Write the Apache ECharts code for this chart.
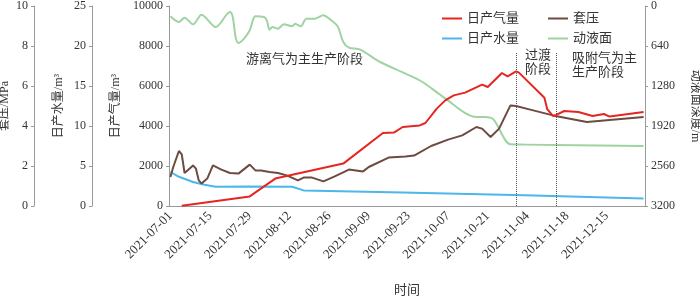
<!DOCTYPE html>
<html>
<head>
<meta charset="utf-8">
<script src="https://cdn.jsdelivr.net/npm/echarts@6/dist/echarts.min.js"></script>
<style>
  html, body { margin: 0; padding: 0; background: #fff; }
  #chart { width: 700px; height: 297px; }
</style>
</head>
<body>
<div id="chart"></div>
<script>
// dates on the x axis (the record skips early December)
function dateRange(from, to) {
  const out = [];
  const d = new Date(from + "T00:00:00Z");
  const end = new Date(to + "T00:00:00Z");
  while (d <= end) {
    out.push(d.toISOString().slice(0, 10));
    d.setUTCDate(d.getUTCDate() + 1);
  }
  return out;
}
const categories = dateRange("2021-07-01", "2021-12-01").concat(dateRange("2021-12-15", "2021-12-28"));

// 日产气量 m3/d
const gasData = [
  ["2021-07-05", 10], ["2021-07-29", 480], ["2021-08-07", 1370], ["2021-08-31", 2120],
  ["2021-09-14", 3650], ["2021-09-18", 3680], ["2021-09-21", 3950], ["2021-09-27", 4030],
  ["2021-09-29", 4150], ["2021-10-03", 4870], ["2021-10-06", 5280], ["2021-10-09", 5530],
  ["2021-10-13", 5670], ["2021-10-19", 6070], ["2021-10-21", 5950], ["2021-10-26", 6650],
  ["2021-10-28", 6480], ["2021-10-31", 6730], ["2021-11-01", 6670], ["2021-11-10", 5410],
  ["2021-11-11", 4840], ["2021-11-13", 4510], ["2021-11-14", 4540], ["2021-11-17", 4750],
  ["2021-11-22", 4700], ["2021-11-27", 4500], ["2021-12-01", 4600], ["2021-12-16", 4470],
  ["2021-12-28", 4700]
];

// 日产水量 m3/d
const waterData = [
  ["2021-07-01", 4.25], ["2021-07-04", 3.65], ["2021-07-09", 3.0], ["2021-07-13", 2.65],
  ["2021-07-17", 2.4], ["2021-07-29", 2.45], ["2021-08-13", 2.4], ["2021-08-17", 1.95],
  ["2021-09-21", 1.7], ["2021-11-03", 1.35], ["2021-12-28", 0.95]
];

// 套压 MPa
const pressureData = [
  ["2021-07-01", 1.45], ["2021-07-02", 1.95], ["2021-07-04", 2.75], ["2021-07-05", 2.58],
  ["2021-07-06", 1.65], ["2021-07-09", 2.03], ["2021-07-10", 1.87], ["2021-07-11", 1.28],
  ["2021-07-12", 1.12], ["2021-07-14", 1.37], ["2021-07-16", 2.03], ["2021-07-19", 1.82],
  ["2021-07-22", 1.65], ["2021-07-25", 1.62], ["2021-07-29", 2.07], ["2021-07-31", 1.78],
  ["2021-08-02", 1.77], ["2021-08-05", 1.7], ["2021-08-08", 1.65], ["2021-08-11", 1.53],
  ["2021-08-15", 1.28], ["2021-08-17", 1.42], ["2021-08-20", 1.42], ["2021-08-24", 1.23],
  ["2021-08-28", 1.48], ["2021-09-02", 1.82], ["2021-09-07", 1.73], ["2021-09-09", 1.95],
  ["2021-09-16", 2.42], ["2021-09-22", 2.48], ["2021-09-25", 2.52], ["2021-10-01", 3.0],
  ["2021-10-07", 3.32], ["2021-10-12", 3.53], ["2021-10-17", 3.95], ["2021-10-19", 3.87],
  ["2021-10-22", 3.45], ["2021-10-25", 3.87], ["2021-10-29", 5.03], ["2021-10-31", 5.0],
  ["2021-11-05", 4.82], ["2021-11-13", 4.53], ["2021-11-25", 4.2], ["2021-12-28", 4.45]
];

// 动液面深度 m
const levelData = [
  ["2021-07-01", 165], ["2021-07-04", 256], ["2021-07-06", 186], ["2021-07-09", 293],
  ["2021-07-12", 138], ["2021-07-17", 336], ["2021-07-22", 96], ["2021-07-23", 176],
  ["2021-07-24", 496], ["2021-07-25", 592], ["2021-07-27", 522], ["2021-07-29", 389],
  ["2021-07-31", 165], ["2021-08-03", 176], ["2021-08-04", 229], ["2021-08-05", 378],
  ["2021-08-06", 336], ["2021-08-08", 362], ["2021-08-10", 293], ["2021-08-13", 325],
  ["2021-08-14", 282], ["2021-08-16", 325], ["2021-08-18", 202], ["2021-08-21", 202],
  ["2021-08-24", 149], ["2021-08-26", 202], ["2021-08-29", 325], ["2021-08-31", 576],
  ["2021-09-02", 666], ["2021-09-06", 698], ["2021-09-13", 896], ["2021-09-22", 1082],
  ["2021-09-28", 1216], ["2021-10-05", 1445], ["2021-10-17", 1776], ["2021-10-20", 1776],
  ["2021-10-23", 1813], ["2021-10-29", 2213], ["2021-11-03", 2218], ["2021-12-28", 2240]
];

// stage boundaries (dotted verticals)
const phaseBreaks = ["2021-10-31", "2021-11-14"];
const phaseLineTop = 7700;

const FONT = "Liberation Serif, Times New Roman, DejaVu Serif, Noto Sans CJK SC, serif";
const TEXT = "#333";
const AXIS = "#999";

function yAxisBase(extra) {
  return Object.assign({
    type: "value",
    nameLocation: "middle",
    nameMoveOverlap: false,
    nameTextStyle: { fontFamily: FONT, fontSize: 12, color: TEXT },
    axisLine: { show: true, lineStyle: { color: AXIS } },
    axisTick: { show: true, length: 3, lineStyle: { color: AXIS } },
    axisLabel: { fontFamily: FONT, fontSize: 12, color: TEXT, margin: 6, formatter: v => String(v) },
    splitLine: { show: false }
  }, extra);
}

const chart = echarts.init(document.getElementById("chart"), null, { renderer: "canvas" });

chart.setOption({
  animation: false,
  backgroundColor: "#fff",
  textStyle: { fontFamily: FONT },
  grid: { left: 169, right: 55, top: 6, bottom: 91, containLabel: false, outerBoundsMode: "none" },
  legend: [
    {
      data: ["日产气量", "套压"],
      left: 437, top: 7, itemGap: 29,
      icon: "rect", itemWidth: 20, itemHeight: 2,
      textStyle: { fontFamily: FONT, fontSize: 13, color: TEXT }
    },
    {
      data: ["日产水量", "动液面"],
      left: 437, top: 27, itemGap: 29,
      icon: "rect", itemWidth: 20, itemHeight: 2,
      textStyle: { fontFamily: FONT, fontSize: 13, color: TEXT }
    }
  ],
  xAxis: {
    type: "category",
    data: categories,
    boundaryGap: true,
    name: "时间",
    nameLocation: "middle",
    nameGap: 78,
    nameMoveOverlap: false,
    nameTextStyle: { fontFamily: FONT, fontSize: 13, color: TEXT },
    axisLine: { lineStyle: { color: AXIS } },
    axisTick: { interval: 13, alignWithLabel: true, length: 3, lineStyle: { color: AXIS } },
    axisLabel: { interval: 13, rotate: 45, fontFamily: FONT, fontSize: 13, color: TEXT, margin: 8 }
  },
  yAxis: [
    yAxisBase({ position: "left", min: 0, max: 10000, interval: 2000, name: "日产气量/m³", nameGap: 47, nameRotate: 90 }),
    yAxisBase({ position: "left", offset: 77, min: 0, max: 25, interval: 5, name: "日产水量/m³", nameGap: 27, nameRotate: 90 }),
    yAxisBase({ position: "left", offset: 135, min: 0, max: 10, interval: 2, name: "套压/MPa", nameGap: 23, nameRotate: 90 }),
    yAxisBase({ position: "right", inverse: true, min: 0, max: 3200, interval: 640, name: "动液面深度/m", nameGap: 44, nameRotate: -90 })
  ],
  graphic: [
    { type: "text", left: 246, top: 53, style: { text: "游离气为主生产阶段", fontFamily: FONT, fontSize: 13, fill: TEXT } },
    { type: "text", left: 525, top: 49, style: { text: "过渡\n阶段", fontFamily: FONT, fontSize: 13, fill: TEXT, lineHeight: 14 } },
    { type: "text", left: 572, top: 52, style: { text: "吸附气为主\n生产阶段", fontFamily: FONT, fontSize: 13, fill: TEXT, lineHeight: 14 } }
  ],
  series: [
    {
      name: "日产气量", type: "line", yAxisIndex: 0, data: gasData,
      showSymbol: false, color: "#e62521", lineStyle: { width: 2 }, z: 5,
      markLine: {
        silent: true, symbol: "none", label: { show: false },
        lineStyle: { color: "#555", type: "dotted", width: 1 },
        data: phaseBreaks.map(d => [{ coord: [d, 0] }, { coord: [d, phaseLineTop] }])
      }
    },
    {
      name: "套压", type: "line", yAxisIndex: 2, data: pressureData,
      showSymbol: false, color: "#6e4b40", lineStyle: { width: 2 }, z: 4
    },
    {
      name: "日产水量", type: "line", yAxisIndex: 1, data: waterData,
      showSymbol: false, color: "#4db6ea", lineStyle: { width: 2 }, z: 3
    },
    {
      name: "动液面", type: "line", yAxisIndex: 3, data: levelData,
      showSymbol: false, smooth: 0.3, color: "#9fd3a2", lineStyle: { width: 2 }, z: 2
    }
  ]
});
</script>
</body>
</html>
